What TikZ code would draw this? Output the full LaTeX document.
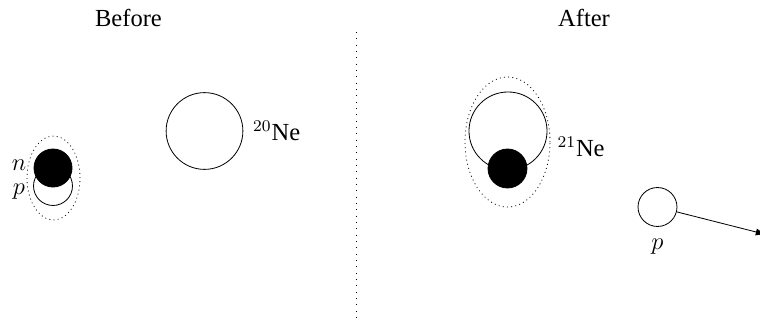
\documentclass[tikz,border=0pt]{standalone}
\usepackage{fontspec}
\setmainfont{Liberation Serif}
\usetikzlibrary{positioning,arrows.meta}
\begin{document}
\begin{tikzpicture}[x=0.0172cm,y=-0.0172cm,semithick,
every node/.style={font=\fontsize{12}{14}\selectfont,inner sep=0pt},
nucleon/.style={circle,draw,thin,minimum size=0.67cm},
proton/.style={nucleon,fill=white},
neutron/.style={nucleon,fill=black},
nucleus/.style={circle,draw,thin,minimum size=1.32cm}]

\tikzset{cloud/.style={thin,dash pattern=on 0.45pt off 1.6pt}}

\useasboundingbox (0,0) rectangle (760,323);

\node (before) at (128.5,18) {Before};
\node (after) at (584,18) {After};
\coordinate (sepTop) at (356,32);
\coordinate (sepBot) at (356,321);
\draw[thin,dash pattern=on 0.5pt off 2.6pt] (sepTop) -- (sepBot);

% deuteron
\draw[cloud] (53.5,178) ellipse [x radius=0.456cm,y radius=0.722cm];
\node[proton] (p1) at (53,186) {};
\node[neutron,minimum size=0.654cm] (n1) at (53,168) {};
\node (nlab) at (19,165) {$n$};
\node (plab) at (19,192) {$p$};

\node[nucleus] (ne20) at (204.5,131) {};
\node (ne20lab) [right=0.16cm of ne20] {$^{20}$Ne};

% compound nucleus
\draw[cloud] (507.5,142) ellipse [x radius=0.731cm,y radius=1.118cm];
\node[nucleus,minimum size=1.342cm] (ne21) at (508,131) {};
\node[neutron] (n2) at (507.5,168.5) {};
\node[anchor=west] (ne21lab) at (557,147) {$^{21}$Ne};

\node[proton] (p2) at (657.5,207) {};
\node (p2lab) [below=0.2cm of p2] {$p$};
\coordinate (pEnd) at (766,234.5);
\draw[thin,-{Latex[length=5pt,width=3.5pt]}] (p2) -- (pEnd);
\end{tikzpicture}
\end{document}
